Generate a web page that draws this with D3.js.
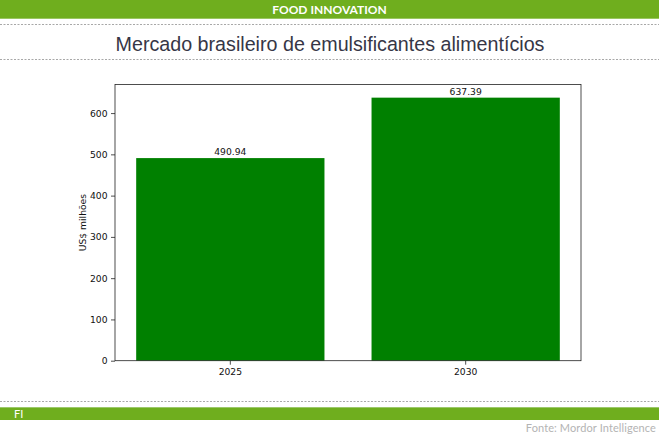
<!DOCTYPE html>
<html>
<head>
<meta charset="utf-8">
<script src="https://cdn.jsdelivr.net/npm/d3@7"></script>
<style>
  body { margin: 0; background: #fff; }
  svg { display: block; }
</style>
</head>
<body>
<div id="chart"></div>
<script>
const WIDTH = 659;
const HEIGHT = 436;

// data
const years = ["2025", "2030"];
const values = [490.94, 637.39];
const yTicks = [0, 100, 200, 300, 400, 500, 600];

const GREEN_BAND = "#6fae1e";
const plot = { left: 115, right: 581, top: 84.5, bottom: 360.7 };

let svg = d3.select("#chart").append("svg")
  .attr("width", WIDTH)
  .attr("height", HEIGHT)
  .attr("viewBox", `0 0 ${WIDTH} ${HEIGHT}`);

// header band
svg.append("rect")
  .attr("x", 0).attr("y", 0)
  .attr("width", WIDTH).attr("height", 18.7)
  .attr("fill", GREEN_BAND);
svg.append("text")
  .attr("x", 329.5).attr("y", 13.5)
  .attr("text-anchor", "middle")
  .attr("fill", "#fff")
  .style("font-family", "Lato, 'DejaVu Sans', sans-serif")
  .style("font-weight", "bold")
  .style("font-size", "12px")
  .text("FOOD INNOVATION");

// dotted rules
function dotted(y) {
  svg.append("line")
    .attr("x1", 0).attr("x2", WIDTH)
    .attr("y1", y).attr("y2", y)
    .attr("stroke", "#a8a8a8")
    .attr("stroke-width", 1)
    .attr("stroke-dasharray", "2,1.5");
}
dotted(24.5);
dotted(59.5);
dotted(401.5);

svg.append("text")
  .attr("x", 330).attr("y", 51)
  .attr("text-anchor", "middle")
  .attr("fill", "#363646")
  .style("font-family", "'Liberation Sans', Arial, sans-serif")
  .style("font-size", "19.7px")
  .text("Mercado brasileiro de emulsificantes alimentícios");

// footer band
svg.append("rect")
  .attr("x", 0).attr("y", 407)
  .attr("width", WIDTH).attr("height", 13)
  .attr("fill", GREEN_BAND);
svg.append("line")
  .attr("x1", 0).attr("x2", WIDTH)
  .attr("y1", 407.5).attr("y2", 407.5)
  .attr("stroke", "#9cc86a");
svg.append("text")
  .attr("x", 14).attr("y", 417.5)
  .attr("fill", "#fff")
  .style("font-family", "Lato, 'DejaVu Sans', sans-serif")
  .style("font-size", "11px")
  .text("FI");
svg.append("text")
  .attr("x", 656).attr("y", 432)
  .attr("text-anchor", "end")
  .attr("fill", "#b4b4b4")
  .style("font-family", "Lato, 'DejaVu Sans', sans-serif")
  .style("font-size", "11px")
  .style("letter-spacing", "0.1px")
  .text("Fonte: Mordor Intelligence");

// chart
let x = d3.scaleBand()
  .domain(years)
  .range([plot.left, plot.right])
  .paddingInner(0.2)
  .paddingOuter(0.09);

let y = d3.scaleLinear()
  .domain([0, d3.max(values) * 1.05])
  .range([plot.bottom, plot.top]);

let g = svg.append("g");

g.selectAll("rect.bar")
  .data(values)
  .enter()
  .append("rect")
  .attr("class", "bar")
  .attr("x", (d, i) => x(years[i]))
  .attr("y", d => y(d))
  .attr("width", x.bandwidth())
  .attr("height", d => y(0) - y(d))
  .attr("fill", "#008000");

g.selectAll("text.val")
  .data(values)
  .enter()
  .append("text")
  .attr("class", "val")
  .attr("x", (d, i) => x(years[i]) + x.bandwidth() / 2)
  .attr("y", d => y(d) - 3)
  .attr("text-anchor", "middle")
  .attr("fill", "#111")
  .style("font-family", "'DejaVu Sans', sans-serif")
  .style("font-size", "9.2px")
  .text(d => d.toFixed(2));

let yAxis = g.append("g")
  .attr("transform", `translate(${plot.left},0)`)
  .call(d3.axisLeft(y).tickValues(yTicks).tickSize(4).tickPadding(3.5));

let xAxis = g.append("g")
  .attr("transform", `translate(0,${plot.bottom})`)
  .call(d3.axisBottom(x).tickSize(4).tickPadding(3.5));

[yAxis, xAxis].forEach(a => {
  a.select(".domain").remove();
  a.selectAll("line").attr("stroke", "#222").attr("stroke-width", 0.8);
  a.selectAll("text")
    .attr("fill", "#111")
    .style("font-family", "'DejaVu Sans', sans-serif")
    .style("font-size", "9.2px");
});

// frame
g.append("rect")
  .attr("x", plot.left).attr("y", plot.top)
  .attr("width", plot.right - plot.left)
  .attr("height", plot.bottom - plot.top)
  .attr("fill", "none")
  .attr("stroke", "#222")
  .attr("stroke-width", 0.8);

g.append("text")
  .attr("transform", `translate(86,${(plot.top + plot.bottom) / 2}) rotate(-90)`)
  .attr("text-anchor", "middle")
  .attr("fill", "#111")
  .style("font-family", "'DejaVu Sans', sans-serif")
  .style("font-size", "9.2px")
  .text("US$ milhões");
</script>
</body>
</html>
